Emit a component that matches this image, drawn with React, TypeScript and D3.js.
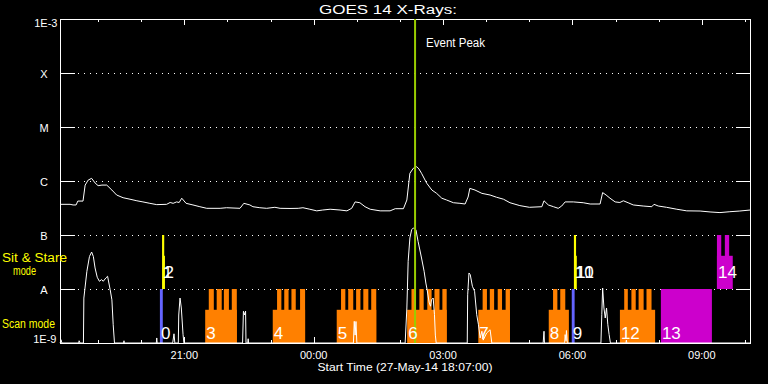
import React from "react";
import * as d3 from "d3";

// ---------- data ----------
const START_TIME = "18:07"; // 27-May-14
const SPAN_HOURS = 16;
const PEAK_TIME = "02:21";

const decadeValues = [1e-9, 1e-8, 1e-7, 1e-6, 1e-5, 1e-4, 1e-3];
const decadeLabels = ["1E-9", "A", "B", "C", "M", "X", "1E-3"];
const hourLabelEvery = 3;

// GOES long channel (hour of day, continuing past 24) and flux W/m^2
const longTime = [18.12,18.35,18.42,18.49,18.53,18.65,18.70,18.77,18.85,18.93,19.00,19.09,19.20,19.32,19.43,19.58,19.74,19.90,20.04,20.20,20.36,20.59,20.67,20.74,20.82,20.88,20.94,21.04,21.20,21.36,21.52,21.83,21.98,22.29,22.38,22.52,22.59,22.75,22.91,23.10,23.22,23.45,23.64,23.75,23.91,24.07,24.21,24.38,24.61,24.77,24.88,24.96,25.07,25.19,25.31,25.54,25.77,25.89,26.08,26.16,26.23,26.31,26.39,26.44,26.50,26.62,26.74,26.85,26.97,27.08,27.24,27.39,27.51,27.58,27.62,27.74,27.90,28.09,28.24,28.40,28.55,28.78,29.00,29.29,29.34,29.44,29.56,29.67,29.75,29.83,30.02,30.25,30.41,30.64,30.70,30.78,30.87,30.99,31.10,31.18,31.29,31.41,31.64,31.84,31.89,31.99,32.18,32.42,32.65,32.96,33.19,33.42,33.65,33.88,34.12];
const longFlux = [3.7e-7,3.7e-7,3.6e-7,3.6e-7,4.25e-7,4.25e-7,8.4e-7,1.04e-6,1.12e-6,9.2e-7,8.2e-7,8.4e-7,8.4e-7,6.8e-7,5.5e-7,4.9e-7,4.6e-7,4.3e-7,4.1e-7,3.86e-7,3.65e-7,3.7e-7,4.0e-7,3.86e-7,4.1e-7,4.0e-7,4.8e-7,3.86e-7,3.6e-7,3.34e-7,3.12e-7,3.12e-7,3.2e-7,3.12e-7,3.86e-7,3.6e-7,3.34e-7,3.2e-7,3.12e-7,3.26e-7,3.12e-7,3.1e-7,3.12e-7,3.2e-7,3.0e-7,2.8e-7,2.9e-7,3.0e-7,2.9e-7,2.8e-7,3.12e-7,4.1e-7,3.96e-7,3.34e-7,3.0e-7,2.8e-7,2.8e-7,3.07e-7,3.07e-7,4.45e-7,1.39e-6,1.72e-6,1.84e-6,1.67e-6,1.39e-6,9.1e-7,6.8e-7,5.9e-7,4.8e-7,4.45e-7,3.96e-7,3.86e-7,3.75e-7,5.05e-7,7.3e-7,6.8e-7,5.9e-7,5.5e-7,5.0e-7,4.6e-7,3.96e-7,3.5e-7,3.26e-7,3.34e-7,4.3e-7,3.6e-7,3.34e-7,3.12e-7,3.44e-7,4.1e-7,4.1e-7,3.96e-7,3.75e-7,3.75e-7,6.1e-7,5.5e-7,4.8e-7,4.1e-7,4.0e-7,4.3e-7,3.96e-7,3.6e-7,3.44e-7,3.34e-7,3.7e-7,3.44e-7,3.26e-7,3.0e-7,2.8e-7,2.78e-7,2.67e-7,2.6e-7,2.7e-7,2.78e-7,2.9e-7];

// GOES short channel (floor at 1E-9)
const shortTime = [18.12,18.14,18.16,18.55,18.56,18.58,18.66,18.67,18.74,18.80,18.85,18.89,18.93,18.98,19.03,19.08,19.12,19.18,19.22,19.28,19.32,19.35,19.38,19.59,19.60,19.61,20.35,20.36,20.37,20.73,20.76,20.78,20.86,20.87,20.90,20.93,20.97,20.99,22.35,22.37,22.40,22.42,22.43,22.47,22.48,22.49,24.92,24.94,24.96,24.98,25.00,26.12,26.16,26.19,26.23,26.27,26.31,26.37,26.42,26.50,26.56,26.60,26.63,26.66,26.68,26.71,26.73,26.77,26.80,26.82,26.84,27.56,27.57,27.60,27.63,27.68,27.73,27.78,27.82,27.86,27.90,27.93,28.01,28.09,28.13,29.32,29.34,29.35,29.82,29.83,29.85,29.86,29.88,30.66,30.68,30.70,30.73,30.76,30.79,30.82,30.85,30.88,31.24,31.25,31.26,34.12];
const shortFlux = [1e-9,1.15e-9,1e-9,1e-9,1.1e-9,1e-9,1e-9,6.8e-9,2.13e-8,4.0e-8,4.84e-8,4.0e-8,2.45e-8,1.65e-8,1.39e-8,1.49e-8,1.39e-8,1.6e-8,1.72e-8,9.7e-9,6.3e-9,2.18e-9,1e-9,1e-9,1.1e-9,1e-9,1e-9,1.24e-9,1e-9,1e-9,1.48e-9,1e-9,1e-9,3.3e-9,6.8e-9,4.45e-9,1.43e-9,1e-9,1e-9,3.87e-9,3.3e-9,3.9e-9,1e-9,1e-9,1.2e-9,1e-9,1e-9,2.52e-9,1.4e-9,2.5e-9,1e-9,1e-9,4.45e-9,3.26e-8,8.8e-8,1.25e-7,1.35e-7,1.25e-7,7.6e-8,3.75e-8,2.13e-8,1.29e-8,9.7e-9,6.8e-9,5.5e-9,4.8e-9,6.3e-9,6.8e-9,3.34e-9,1.4e-9,1e-9,1e-9,7.8e-9,1.98e-8,1.84e-8,1.12e-8,9.1e-9,3.34e-9,2.18e-9,1.24e-9,1.65e-9,1.13e-9,1.53e-9,1.76e-9,1e-9,1e-9,1.65e-9,1e-9,1e-9,1.43e-9,1.1e-9,1.7e-9,1e-9,1e-9,3.34e-9,1.04e-8,4.45e-9,2.9e-9,4.45e-9,2.18e-9,1.43e-9,1e-9,1e-9,1.13e-9,1e-9,1e-9];

// IRIS observations: id, mode, color, start, end
const observations = [
  { id: "0", mode: "scan", color: "#6464ff", start: "20:26", end: "20:30" },
  { id: "1", mode: "stare", color: "#ffff00", start: "20:29", end: "20:32" },
  { id: "2", mode: "stare", color: "#ffff00", start: "20:31", end: "20:33", partial: true },
  { id: "3", mode: "scan", color: "#ff8000", start: "21:29", end: "22:13", partial: true },
  { id: "4", mode: "scan", color: "#ff8000", start: "23:03", end: "23:48", partial: true },
  { id: "5", mode: "scan", color: "#ff8000", start: "00:32", end: "01:27", partial: true },
  { id: "6", mode: "scan", color: "#ff8000", start: "02:10", end: "03:05", partial: true },
  { id: "7", mode: "scan", color: "#ff8000", start: "03:49", end: "04:33", partial: true },
  { id: "8", mode: "scan", color: "#ff8000", start: "05:27", end: "05:55", partial: true },
  { id: "9", mode: "scan", color: "#6464ff", start: "05:59", end: "06:03" },
  { id: "10", mode: "stare", color: "#ffff00", start: "06:02", end: "06:05" },
  { id: "11", mode: "stare", color: "#ffff00", start: "06:04", end: "06:06", partial: true },
  { id: "12", mode: "scan", color: "#ff8000", start: "07:06", end: "07:55", partial: true },
  { id: "13", mode: "scan", color: "#cc00cc", start: "08:03", end: "09:14" },
  { id: "14", mode: "stare", color: "#cc00cc", start: "09:21", end: "09:43", partial: true },
];

// full-height raster steps inside partial observations
const rasterSteps = [
  { id: "3", start: "21:34", end: "21:41" }, { id: "3", start: "21:45", end: "21:52" },
  { id: "3", start: "21:55", end: "22:02" }, { id: "3", start: "22:06", end: "22:13" },
  { id: "4", start: "23:09", end: "23:15" }, { id: "4", start: "23:19", end: "23:25" },
  { id: "4", start: "23:29", end: "23:35" }, { id: "4", start: "23:41", end: "23:48" },
  { id: "5", start: "00:38", end: "00:44" }, { id: "5", start: "00:48", end: "00:55" },
  { id: "5", start: "00:59", end: "01:05" }, { id: "5", start: "01:09", end: "01:16" },
  { id: "5", start: "01:20", end: "01:27" },
  { id: "6", start: "02:16", end: "02:22" }, { id: "6", start: "02:27", end: "02:33" },
  { id: "6", start: "02:38", end: "02:44" }, { id: "6", start: "02:48", end: "02:55" },
  { id: "6", start: "02:59", end: "03:05" },
  { id: "7", start: "03:55", end: "04:01" }, { id: "7", start: "04:05", end: "04:11" },
  { id: "7", start: "04:16", end: "04:22" }, { id: "7", start: "04:27", end: "04:33" },
  { id: "8", start: "05:33", end: "05:39" }, { id: "8", start: "05:43", end: "05:50" },
  { id: "12", start: "07:12", end: "07:17" }, { id: "12", start: "07:22", end: "07:28" },
  { id: "12", start: "07:32", end: "07:39" }, { id: "12", start: "07:43", end: "07:50" },
  { id: "14", start: "09:21", end: "09:27" }, { id: "14", start: "09:32", end: "09:38" },
];

// ---------- helpers ----------
const parseHM = (s: string) => {
  const [h, m] = s.split(":").map(Number);
  let v = h + m / 60;
  if (v < 18) v += 24;
  return v;
};
const fmtHour = (h: number) => `${String(h % 24).padStart(2, "0")}:00`;

const FONT = "'Liberation Sans', Arial, sans-serif";

export default function App() {
  const W = 768, H = 384;
  const L = 60, R = 750, T = 19, B = 343;
  const t0 = parseHM(START_TIME);
  const t1 = t0 + SPAN_HOURS;
  const x = d3.scaleLinear().domain([t0, t1]).range([L, R]);
  const y = d3.scaleLog().domain([1e-9, 1e-3]).range([B, T]);
  const hours = d3.range(Math.ceil(t0), t1 + 0.001, 1);

  const bands: Record<string, [number, number]> = { scan: [1e-9, 1e-8], stare: [1e-8, 1e-7] };
  const baseFrac = 0.615;

  const line = d3.line<[number, number]>()
    .x((d) => x(d[0]))
    .y((d) => y(Math.max(1e-9, d[1])));
  const longPath = line(longTime.map((t, i) => [t, longFlux[i]]) as [number, number][]) || "";
  const shortPath = line(shortTime.map((t, i) => [t, shortFlux[i]]) as [number, number][]) || "";

  const peakX = x(parseHM(PEAK_TIME));

  return (
    <svg width={W} height={H} style={{ position: "absolute", left: 0, top: 0, background: "#000" }}
      fontFamily={FONT}>
      <rect x={0} y={0} width={W} height={H} fill="#000" />

      {/* grid lines */}
      {decadeValues.slice(1, -1).map((v) => (
        <g key={"g" + v}>
          <line x1={78} x2={734} y1={Math.round(y(v)) + 0.5} y2={Math.round(y(v)) + 0.5}
            stroke="#fff" strokeDasharray="1 5" />
          <line x1={L} x2={L + 15} y1={Math.round(y(v)) + 0.5} y2={Math.round(y(v)) + 0.5} stroke="#fff" />
          <line x1={R - 14} x2={R} y1={Math.round(y(v)) + 0.5} y2={Math.round(y(v)) + 0.5} stroke="#fff" />
        </g>
      ))}

      {/* time ticks */}
      {hours.map((h) => {
        const major = h % hourLabelEvery === 0;
        const len = major ? 6 : 3;
        const xx = Math.round(x(h)) + 0.5;
        return (
          <g key={"t" + h}>
            <line x1={xx} x2={xx} y1={T} y2={T + len} stroke="#fff" />
            <line x1={xx} x2={xx} y1={B} y2={B - len} stroke="#fff" />
          </g>
        );
      })}

      {/* frame */}
      <rect x={L + 0.5} y={T + 0.5} width={R - L} height={B - T} fill="none" stroke="#fff" />

      {/* observations */}
      {observations.map((o) => {
        const [lo, hi] = bands[o.mode];
        const yLo = y(lo), yHi = y(hi);
        const yTop = o.partial ? yLo - (yLo - yHi) * baseFrac : yHi;
        const xs = x(parseHM(o.start)), xe = x(parseHM(o.end));
        return <rect key={"o" + o.id} x={xs} y={yTop} width={xe - xs} height={yLo - yTop} fill={o.color} />;
      })}
      {rasterSteps.map((s, i) => {
        const o = observations.find((d) => d.id === s.id)!;
        const [lo, hi] = bands[o.mode];
        const xs = x(parseHM(s.start)), xe = x(parseHM(s.end));
        return <rect key={"s" + i} x={xs} y={y(hi)} width={xe - xs} height={y(lo) - y(hi)} fill={o.color} />;
      })}

      {/* curves */}
      <path d={longPath} fill="none" stroke="#fff" strokeWidth={1} />
      <path d={shortPath} fill="none" stroke="#fff" strokeWidth={1} />

      {/* event peak */}
      <line x1={peakX} x2={peakX} y1={T} y2={B} stroke="#99cc00" strokeWidth={2} />
      <text x={426} y={47} fill="#fff" fontSize={12} textLength={59} lengthAdjust="spacingAndGlyphs">Event Peak</text>

      {/* observation labels */}
      {observations.map((o) => {
        const xs = x(parseHM(o.start));
        const yy = o.mode === "scan" ? y(1e-9) - 4 : y(1e-8) - 11;
        return (
          <text key={"l" + o.id} x={xs + 1} y={yy} fill="#fff" fontSize={17}>{o.id}</text>
        );
      })}

      {/* y labels */}
      {decadeValues.map((v, i) => {
        const lab = decadeLabels[i];
        if (i === decadeValues.length - 1)
          return <text key={"y" + i} x={57.5} y={y(v) + 8} fill="#fff" fontSize={11} textAnchor="end">{lab}</text>;
        if (i === 0)
          return <text key={"y" + i} x={56.5} y={y(v)} fill="#fff" fontSize={11} textAnchor="end">{lab}</text>;
        return <text key={"y" + i} x={44} y={y(v) + 4.5} fill="#fff" fontSize={11} textAnchor="middle">{lab}</text>;
      })}

      {/* mode labels */}
      <text x={2} y={262} fill="#ffff00" fontSize={12} textLength={65} lengthAdjust="spacingAndGlyphs">Sit &amp; Stare</text>
      <text x={13} y={275} fill="#ffff00" fontSize={12} textLength={23} lengthAdjust="spacingAndGlyphs">mode</text>
      <text x={2} y={327.5} fill="#ffff00" fontSize={12} textLength={53} lengthAdjust="spacingAndGlyphs">Scan mode</text>

      {/* x labels */}
      {hours.filter((h) => h % hourLabelEvery === 0).map((h) => (
        <text key={"x" + h} x={x(h)} y={359} fill="#fff" fontSize={11} textAnchor="middle">{fmtHour(h)}</text>
      ))}
      <text x={405} y={371} fill="#fff" fontSize={11} textAnchor="middle" textLength={175} lengthAdjust="spacingAndGlyphs">
        Start Time (27-May-14 18:07:00)
      </text>

      {/* title */}
      <text x={388} y={14} fill="#fff" fontSize={12.5} textAnchor="middle" textLength={138} lengthAdjust="spacingAndGlyphs">
        GOES 14 X-Rays:
      </text>
    </svg>
  );
}
